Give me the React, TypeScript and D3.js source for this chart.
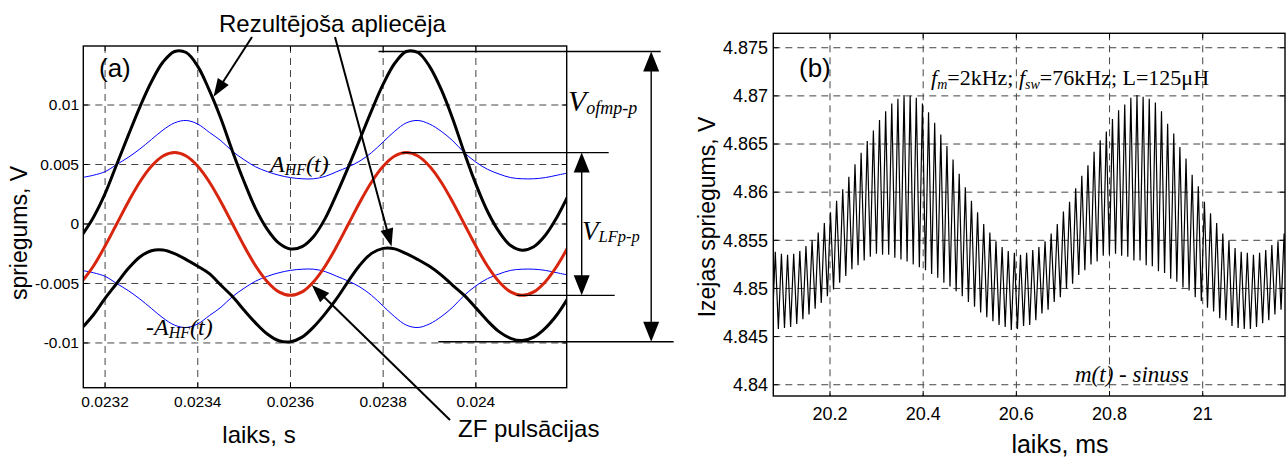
import React from 'react';
import * as d3 from 'd3';

// ---------- Panel (a): output ripple decomposition (time in s, voltage in V) ----------
const aSampleStart = 0.02315;
const aSampleStep = 0.000025;

// low-frequency (2 kHz) component of the output ripple
const lfRipple = [
  -0.00485, -0.00353, -0.00185, 0, 0.00185, 0.00353, 0.00485, 0.00571, 0.006, 0.00571,
  0.00485, 0.00353, 0.00185, 0, -0.00185, -0.00353, -0.00485, -0.00571, -0.006, -0.00571,
  -0.00485, -0.00353, -0.00185, 0, 0.00185, 0.00353, 0.00485, 0.00571, 0.006, 0.00571,
  0.00485, 0.00353, 0.00185, 0, -0.00185, -0.00353, -0.00485, -0.00571, -0.006, -0.00571,
  -0.00485, -0.00353, -0.00185,
];

// high-frequency ripple amplitude A_HF(t)
const hfAmplitude = [
  0.0039, 0.0041, 0.0044, 0.005, 0.0056, 0.0063, 0.0071, 0.0079, 0.0085, 0.0087,
  0.0084, 0.0077, 0.007, 0.0061, 0.0054, 0.0048, 0.0044, 0.0041, 0.0039, 0.0038,
  0.0038, 0.004, 0.0044, 0.0048, 0.0053, 0.006, 0.0069, 0.0078, 0.0085, 0.0087,
  0.0084, 0.0078, 0.007, 0.006, 0.0052, 0.0046, 0.0042, 0.0039, 0.0038, 0.0038,
  0.0039, 0.0041, 0.0043,
];

// resulting envelope: upper and lower bound
const envelopeUpper = [
  -0.00095, 0.00057, 0.00255, 0.005, 0.00745, 0.00983, 0.01195, 0.01361, 0.0145, 0.01441,
  0.01325, 0.01123, 0.00885, 0.0061, 0.00355, 0.00127, -0.00045, -0.00161, -0.0021, -0.00191,
  -0.00105, 0.00047, 0.00255, 0.0048, 0.00715, 0.00953, 0.01175, 0.01351, 0.0145, 0.01441,
  0.01325, 0.01133, 0.00885, 0.006, 0.00335, 0.00107, -0.00065, -0.00181, -0.0022, -0.00191,
  -0.00095, 0.00057, 0.00245,
];
const envelopeLower = [
  -0.00875, -0.00763, -0.00625, -0.005, -0.00375, -0.00277, -0.00225, -0.00219, -0.0025, -0.00299,
  -0.00355, -0.00417, -0.00515, -0.0061, -0.00725, -0.00833, -0.00925, -0.00981, -0.0099, -0.00951,
  -0.00865, -0.00753, -0.00625, -0.0048, -0.00345, -0.00247, -0.00205, -0.00209, -0.0025, -0.00299,
  -0.00355, -0.00427, -0.00515, -0.006, -0.00705, -0.00813, -0.00905, -0.00961, -0.0098, -0.00951,
  -0.00875, -0.00763, -0.00615,
];

const aXTicks = [0.0232, 0.0234, 0.0236, 0.0238, 0.024];
const aXTickLabels = ['0.0232', '0.0234', '0.0236', '0.0238', '0.024'];
const aYTicks = [-0.01, -0.005, 0, 0.005, 0.01];
const aYTickLabels = ['-0.01', '-0.005', '0', '0.005', '0.01'];

// ---------- Panel (b): simulated output voltage (time in ms, voltage in V) ----------
const bFirstCycle = 20.076;
const bSwitchPeriod = 1 / 76; // 76 kHz switching
const riseFraction = 0.5;

const ripplePeaks = [
  4.8538, 4.8536, 4.8535, 4.8536, 4.8539, 4.8544, 4.855, 4.8558, 4.8568, 4.8579,
  4.8591, 4.8603, 4.8616, 4.8629, 4.8641, 4.8653, 4.8664, 4.8675, 4.8684, 4.8692,
  4.8697, 4.8701, 4.87, 4.8698, 4.8692, 4.8683, 4.8672, 4.866, 4.8648, 4.8634,
  4.8619, 4.8605, 4.8591, 4.8579, 4.8567, 4.8558, 4.8549, 4.8543,
  4.8539, 4.8537, 4.8535, 4.8537, 4.854, 4.8543, 4.8549, 4.8557, 4.8567, 4.858,
  4.859, 4.8604, 4.8617, 4.8628, 4.8642, 4.8654, 4.8663, 4.8676, 4.8685, 4.8691,
  4.8698, 4.8701, 4.8699, 4.8697, 4.8693, 4.8684, 4.8671, 4.8661, 4.8647, 4.8635,
  4.8618, 4.8606, 4.859, 4.8578, 4.8568, 4.8557, 4.855, 4.8542,
  4.8538, 4.8537, 4.8535, 4.8537, 4.854, 4.8545, 4.8549, 4.8557,
];
const rippleTroughs = [
  4.8459, 4.8458, 4.8459, 4.846, 4.8463, 4.8468, 4.8473, 4.8479, 4.8485, 4.8492,
  4.8499, 4.8506, 4.8513, 4.852, 4.8524, 4.8529, 4.8533, 4.8536, 4.8535, 4.8535,
  4.8532, 4.853, 4.8528, 4.8525, 4.8522, 4.8519, 4.8515, 4.8511, 4.8506, 4.8502,
  4.8497, 4.8492, 4.8486, 4.8481, 4.8475, 4.847, 4.8466, 4.8462,
  4.846, 4.8457, 4.8458, 4.8461, 4.8462, 4.8467, 4.8474, 4.8478, 4.8486, 4.8491,
  4.85, 4.8505, 4.8514, 4.8519, 4.8525, 4.8528, 4.8534, 4.8535, 4.8536, 4.8534,
  4.8533, 4.8529, 4.8529, 4.8524, 4.8523, 4.8518, 4.8516, 4.851, 4.8507, 4.8501,
  4.8498, 4.8491, 4.8487, 4.848, 4.8476, 4.8469, 4.8467, 4.8461,
  4.8459, 4.8458, 4.8458, 4.846, 4.8464, 4.8467, 4.8473, 4.8478,
];

const bXTicks = [20.2, 20.4, 20.6, 20.8, 21];
const bXTickLabels = ['20.2', '20.4', '20.6', '20.8', '21'];
const bYTicks = [4.84, 4.845, 4.85, 4.855, 4.86, 4.865, 4.87, 4.875];
const bYTickLabels = ['4.84', '4.845', '4.85', '4.855', '4.86', '4.865', '4.87', '4.875'];

const SANS = 'Liberation Sans, Arial, Helvetica, sans-serif';
const SERIF = 'Liberation Serif, Times New Roman, serif';
const GRID = '#444';

function arrowHead(x1: number, y1: number, x2: number, y2: number, len: number, hw: number) {
  const dx = x2 - x1;
  const dy = y2 - y1;
  const d = Math.hypot(dx, dy);
  const ux = dx / d;
  const uy = dy / d;
  const bx = x2 - ux * len;
  const by = y2 - uy * len;
  return `${x2},${y2} ${bx - uy * hw},${by + ux * hw} ${bx + uy * hw},${by - ux * hw}`;
}

function Pointer({ x1, y1, x2, y2 }: { x1: number; y1: number; x2: number; y2: number }) {
  const d = Math.hypot(x2 - x1, y2 - y1);
  const ex = x2 - ((x2 - x1) / d) * 10;
  const ey = y2 - ((y2 - y1) / d) * 10;
  return (
    <g>
      <line x1={x1} y1={y1} x2={ex} y2={ey} stroke="#000" strokeWidth={2} />
      <polygon points={arrowHead(x1, y1, x2, y2, 18, 6.5)} fill="#000" />
    </g>
  );
}

function DimArrow({ x, y1, y2 }: { x: number; y1: number; y2: number }) {
  return (
    <g>
      <line x1={x} y1={y1 + 12} x2={x} y2={y2 - 12} stroke="#000" strokeWidth={1.4} />
      <polygon points={arrowHead(x, y2, x, y1, 20, 8)} fill="#000" />
      <polygon points={arrowHead(x, y1, x, y2, 20, 8)} fill="#000" />
    </g>
  );
}

export default function App() {
  // ----- panel (a) scales -----
  const aLeft = 83.3, aRight = 566.7, aTop = 46, aBottom = 387.7;
  const aX = d3.scaleLinear().domain([0.023153, 0.024196]).range([aLeft, aRight]);
  const aY = d3.scaleLinear().domain([-0.01376, 0.01496]).range([aBottom, aTop]);
  const aTimes = lfRipple.map((_, k) => aSampleStart + k * aSampleStep);
  const smooth = d3
    .line<[number, number]>()
    .x((d) => aX(d[0]))
    .y((d) => aY(d[1]))
    .curve(d3.curveCatmullRom.alpha(0.5));
  const series = (vals: number[]) => vals.map((v, k) => [aTimes[k], v] as [number, number]);

  // ----- panel (b) scales -----
  const bLeft = 773.3, bRight = 1285, bTop = 33.3, bBottom = 396;
  const bX = d3.scaleLinear().domain([20.0783, 21.1766]).range([bLeft, bRight]);
  const bY = d3.scaleLinear().domain([4.83883, 4.8765]).range([bBottom, bTop]);
  const ripplePts: [number, number][] = [];
  rippleTroughs.forEach((lo, i) => {
    const t0 = bFirstCycle + i * bSwitchPeriod;
    ripplePts.push([t0, lo]);
    ripplePts.push([t0 + riseFraction * bSwitchPeriod, ripplePeaks[i]]);
  });
  ripplePts.push([bFirstCycle + rippleTroughs.length * bSwitchPeriod, rippleTroughs[rippleTroughs.length - 1]]);
  const rippleLine = d3
    .line<[number, number]>()
    .x((d) => bX(d[0]))
    .y((d) => bY(d[1]));

  const tick = 5;

  // annotation anchors in panel (a)
  const upMax = d3.max(envelopeUpper) as number;
  const loMin = d3.min(envelopeLower) as number;
  const lfMax = d3.max(lfRipple) as number;
  const lfMin = d3.min(lfRipple) as number;
  const yTopRef = aY(upMax);
  const yBotRef = aY(loMin);
  const yLfTop = aY(lfMax);
  const yLfBot = aY(lfMin);

  return (
    <svg
      width={1287}
      height={457}
      viewBox="0 0 1287 457"
      style={{ position: 'absolute', left: 0, top: 0, background: '#fff' }}
    >
      <defs>
        <clipPath id="clipA">
          <rect x={aLeft} y={aTop} width={aRight - aLeft} height={aBottom - aTop} />
        </clipPath>
        <clipPath id="clipB">
          <rect x={bLeft} y={bTop} width={bRight - bLeft} height={bBottom - bTop} />
        </clipPath>
      </defs>
      <rect x={0} y={0} width={1287} height={457} fill="#fff" />

      {/* ================= Panel (a) ================= */}
      <g>
        {aXTicks.map((t) => (
          <line key={'agx' + t} x1={aX(t)} x2={aX(t)} y1={aTop} y2={aBottom} stroke={GRID} strokeWidth={1} strokeDasharray="7,5" />
        ))}
        {aYTicks.map((v) => (
          <line key={'agy' + v} x1={aLeft} x2={aRight} y1={aY(v)} y2={aY(v)} stroke={GRID} strokeWidth={1} strokeDasharray="7,5" />
        ))}
        <g clipPath="url(#clipA)">
          <path d={smooth(series(hfAmplitude)) || ''} fill="none" stroke="#0000ff" strokeWidth={1} />
          <path d={smooth(series(hfAmplitude.map((v) => -v))) || ''} fill="none" stroke="#0000ff" strokeWidth={1} />
          <path d={smooth(series(envelopeUpper)) || ''} fill="none" stroke="#000" strokeWidth={3} />
          <path d={smooth(series(envelopeLower)) || ''} fill="none" stroke="#000" strokeWidth={3} />
          <path d={smooth(series(lfRipple)) || ''} fill="none" stroke="#d8260e" strokeWidth={3} />
        </g>
        {/* inward ticks */}
        {aXTicks.map((t) => (
          <g key={'atx' + t}>
            <line x1={aX(t)} x2={aX(t)} y1={aBottom} y2={aBottom - tick} stroke="#000" />
            <line x1={aX(t)} x2={aX(t)} y1={aTop} y2={aTop + tick} stroke="#000" />
          </g>
        ))}
        {aYTicks.map((v) => (
          <g key={'aty' + v}>
            <line x1={aLeft} x2={aLeft + tick} y1={aY(v)} y2={aY(v)} stroke="#000" />
            <line x1={aRight} x2={aRight - tick} y1={aY(v)} y2={aY(v)} stroke="#000" />
          </g>
        ))}
        <rect x={aLeft} y={aTop} width={aRight - aLeft} height={aBottom - aTop} fill="none" stroke="#000" strokeWidth={1.4} />

        {aXTicks.map((t, i) => (
          <text key={'alx' + t} x={aX(t)} y={406.5} textAnchor="middle" fontFamily={SANS} fontSize={15.5} fill="#000">
            {aXTickLabels[i]}
          </text>
        ))}
        {aYTicks.map((v, i) => (
          <text key={'aly' + v} x={79} y={aY(v)} dy="0.35em" textAnchor="end" fontFamily={SANS} fontSize={15.5} fill="#000">
            {aYTickLabels[i]}
          </text>
        ))}
        <text x={259} y={443} textAnchor="middle" fontFamily={SANS} fontSize={24} fill="#000">
          laiks, s
        </text>
        <text transform="translate(27,233) rotate(-90)" textAnchor="middle" fontFamily={SANS} fontSize={23} fill="#000">
          spriegums, V
        </text>
        <text x={99} y={77} fontFamily={SANS} fontSize={26} fill="#000">
          (a)
        </text>

        {/* curve labels */}
        <text x={270} y={172} fontFamily={SERIF} fontStyle="italic" fontSize={24} fill="#000">
          A<tspan fontSize={16} dy={3}>HF</tspan>
          <tspan dy={-3}>(t)</tspan>
        </text>
        <text x={146} y={335} fontFamily={SERIF} fontStyle="italic" fontSize={24} fill="#000">
          -A<tspan fontSize={16} dy={3}>HF</tspan>
          <tspan dy={-3}>(t)</tspan>
        </text>

        {/* pointer annotations */}
        <text x={219} y={32} fontFamily={SANS} fontSize={24} fill="#000">
          Rezultējoša apliecēja
        </text>
        <Pointer x1={252} y1={37} x2={aX(0.023434)} y2={aY(0.0107)} />
        <Pointer x1={335} y1={37} x2={aX(0.023818)} y2={aY(-0.0019)} />
        <text x={458} y={437} fontFamily={SANS} fontSize={24} fill="#000">
          ZF pulsācijas
        </text>
        <Pointer x1={450} y1={420} x2={aX(0.023646)} y2={aY(-0.00513)} />

        {/* peak-to-peak dimension lines */}
        <line x1={aX(0.02379)} x2={aRight + 94} y1={yTopRef} y2={yTopRef} stroke="#000" strokeWidth={1.4} />
        <line x1={aX(0.023919)} x2={aRight + 107} y1={yBotRef} y2={yBotRef} stroke="#000" strokeWidth={1.4} />
        <line x1={aX(0.02384)} x2={aRight + 42} y1={yLfTop} y2={yLfTop} stroke="#000" strokeWidth={1.4} />
        <line x1={aX(0.024088)} x2={aRight + 48} y1={yLfBot} y2={yLfBot} stroke="#000" strokeWidth={1.4} />
        <DimArrow x={aRight + 84.5} y1={yTopRef} y2={yBotRef} />
        <DimArrow x={aRight + 15} y1={yLfTop} y2={yLfBot} />
        <text x={568} y={111} fontFamily={SERIF} fontStyle="italic" fontSize={30} fill="#000">
          V<tspan fontSize={18} dy={3}>ofmp-p</tspan>
        </text>
        <text x={582} y={240} fontFamily={SERIF} fontStyle="italic" fontSize={27} fill="#000">
          V<tspan fontSize={16.5} dy={2}>LFp-p</tspan>
        </text>
      </g>

      {/* ================= Panel (b) ================= */}
      <g>
        {bXTicks.map((t) => (
          <line key={'bgx' + t} x1={bX(t)} x2={bX(t)} y1={bTop} y2={bBottom} stroke={GRID} strokeWidth={1} strokeDasharray="7,5" />
        ))}
        {bYTicks.map((v) => (
          <line key={'bgy' + v} x1={bLeft} x2={bRight} y1={bY(v)} y2={bY(v)} stroke={GRID} strokeWidth={1} strokeDasharray="7,5" />
        ))}
        <g clipPath="url(#clipB)">
          <path d={rippleLine(ripplePts) || ''} fill="none" stroke="#000" strokeWidth={1.2} />
        </g>
        {bXTicks.map((t) => (
          <g key={'btx' + t}>
            <line x1={bX(t)} x2={bX(t)} y1={bBottom} y2={bBottom - tick} stroke="#000" />
            <line x1={bX(t)} x2={bX(t)} y1={bTop} y2={bTop + tick} stroke="#000" />
          </g>
        ))}
        {bYTicks.map((v) => (
          <g key={'bty' + v}>
            <line x1={bLeft} x2={bLeft + tick} y1={bY(v)} y2={bY(v)} stroke="#000" />
            <line x1={bRight} x2={bRight - tick} y1={bY(v)} y2={bY(v)} stroke="#000" />
          </g>
        ))}
        <rect x={bLeft} y={bTop} width={bRight - bLeft} height={bBottom - bTop} fill="none" stroke="#000" strokeWidth={1.4} />

        {bXTicks.map((t, i) => (
          <text key={'blx' + t} x={bX(t)} y={420} textAnchor="middle" fontFamily={SANS} fontSize={18} fill="#000">
            {bXTickLabels[i]}
          </text>
        ))}
        {bYTicks.map((v, i) => (
          <text key={'bly' + v} x={768} y={bY(v)} dy="0.35em" textAnchor="end" fontFamily={SANS} fontSize={18} fill="#000">
            {bYTickLabels[i]}
          </text>
        ))}
        <text x={1060} y={453} textAnchor="middle" fontFamily={SANS} fontSize={25} fill="#000">
          laiks, ms
        </text>
        <text transform="translate(715,217) rotate(-90)" textAnchor="middle" fontFamily={SANS} fontSize={23} fill="#000">
          Izejas spriegums, V
        </text>
        <text x={799} y={77} fontFamily={SANS} fontSize={26} fill="#000">
          (b)
        </text>
        <text x={931} y={85} fontFamily={SERIF} fontSize={22} fill="#000">
          <tspan fontStyle="italic">f</tspan>
          <tspan fontStyle="italic" fontSize={14} dy={4}>m</tspan>
          <tspan dy={-4}>=2kHz; </tspan>
          <tspan fontStyle="italic">f</tspan>
          <tspan fontStyle="italic" fontSize={14} dy={4}>sw</tspan>
          <tspan dy={-4}>=76kHz; L=125μH</tspan>
        </text>
        <text x={1075} y={381.7} fontFamily={SERIF} fontStyle="italic" fontSize={23} fill="#000">
          m(t) - sinuss
        </text>
      </g>
    </svg>
  );
}
